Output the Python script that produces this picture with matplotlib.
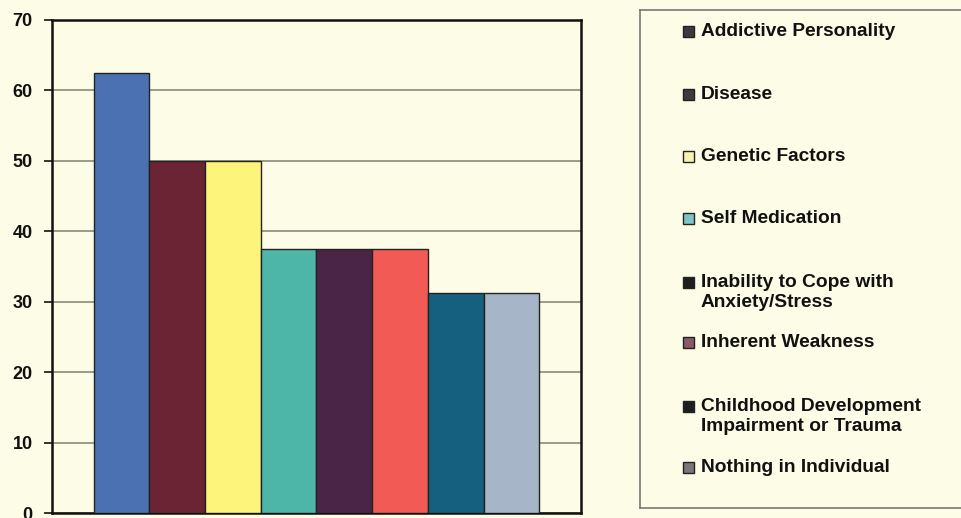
import matplotlib.pyplot as plt
from matplotlib.patches import Rectangle

# Data
labels = ['Addictive Personality', 'Disease', 'Genetic Factors', 'Self Medication',
          'Inability to Cope with\nAnxiety/Stress', 'Inherent Weakness',
          'Childhood Development\nImpairment or Trauma', 'Nothing in Individual']
values = [62.5, 50, 50, 37.5, 37.5, 37.5, 31.25, 31.25]
colors = ['#4b71b3', '#6a2433', '#fdf47c', '#4db6a9',
          '#4a2547', '#f25b55', '#15607f', '#a7b5c9']
legend_colors = ['#3a3a3a', '#3c3c3c', '#f8f3b0', '#7fc4c8',
                 '#1e1e1e', '#8a5a66', '#1e1e1e', '#777777']
yticks = [0, 10, 20, 30, 40, 50, 60, 70]

bg = '#fdfce6'
plt.rcParams['font.family'] = ['Liberation Sans', 'DejaVu Sans']

fig = plt.figure(figsize=(9.62, 5.18), dpi=100, facecolor=bg)
ax = fig.add_axes([52/962, 5/518, 529/962, 493/518], facecolor=bg)

x = range(len(values))
ax.bar(x, values, width=1.0, color=colors, edgecolor='#222222', linewidth=1, zorder=3)

ax.set_xlim(-1.25, 8.25)
ax.set_ylim(0, 70)
ax.set_yticks(yticks)
ax.set_yticklabels([str(t) for t in yticks], fontsize=13, fontweight='bold')
ax.set_xticks([])
ax.tick_params(axis='y', direction='out', length=6, width=1.2, pad=8, colors='#111111')
ax.yaxis.grid(True, color='#8a8a7a', linewidth=1.2, zorder=1)
for s in ax.spines.values():
    s.set_color('#111111')
    s.set_linewidth(1.8)

# legend box on the right
lax = fig.add_axes([640/962, 10/518, 340/962, 498/518], facecolor=bg)
lax.set_xlim(0, 340)
lax.set_ylim(498, 0)
lax.set_xticks([])
lax.set_yticks([])
for s in lax.spines.values():
    s.set_color('#777777')
    s.set_linewidth(1.2)
lax.spines['right'].set_visible(False)

# vertical positions of legend entries (first line centre), in pixels from box top
entry_y = [21, 84, 146, 208, 272, 332, 396, 457]
for lab, c, y in zip(labels, legend_colors, entry_y):
    lax.add_patch(Rectangle((43, y - 5), 11, 11, facecolor=c, edgecolor='#222222', linewidth=1))
    lax.text(61, y - 8, lab, fontsize=13.8, fontweight='bold', va='top', ha='left',
             color='#111111', linespacing=1.25)

fig.savefig('out.png', dpi=100, facecolor=bg)
